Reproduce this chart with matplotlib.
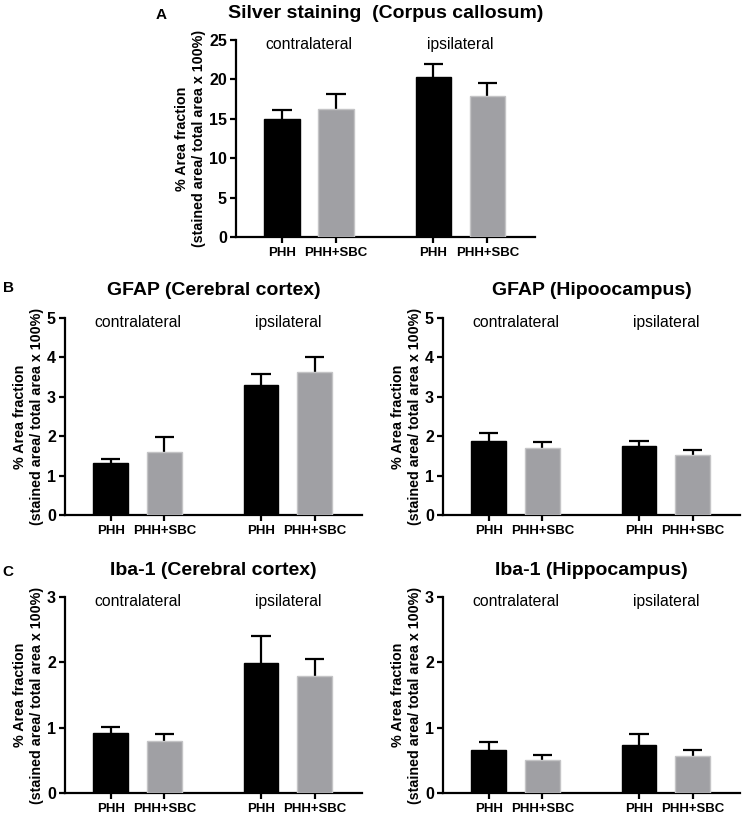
import matplotlib
matplotlib.use("Agg")
import matplotlib.pyplot as plt
import numpy as np

plt.rcParams['font.family'] = ['Liberation Sans', 'DejaVu Sans']

groups = ['contralateral', 'ipsilateral']
treatments = ['PHH', 'PHH+SBC']

silver_mean = [15.0, 16.3, 20.3, 17.85]
silver_err = [1.15, 1.8, 1.7, 1.75]
gfap_ctx_mean = [1.31, 1.61, 3.30, 3.62]
gfap_ctx_err = [0.12, 0.36, 0.27, 0.40]
gfap_hip_mean = [1.88, 1.69, 1.75, 1.52]
gfap_hip_err = [0.21, 0.17, 0.14, 0.12]
iba_ctx_mean = [0.925, 0.80, 1.99, 1.79]
iba_ctx_err = [0.09, 0.11, 0.41, 0.26]
iba_hip_mean = [0.66, 0.50, 0.74, 0.57]
iba_hip_err = [0.12, 0.075, 0.16, 0.09]

titles = ['Silver staining  (Corpus callosum)', 'GFAP (Cerebral cortex)',
          'GFAP (Hipoocampus)', 'Iba-1 (Cerebral cortex)', 'Iba-1 (Hippocampus)']
ymaxes = [25, 5, 5, 3, 3]
ysteps = [5, 1, 1, 1, 1]
ylabel = '% Area fraction\n(stained area/ total area x 100%)'

W, H = 743, 818
fig = plt.figure(figsize=(W / 100, H / 100), dpi=100)

def rect(l, r, t, b):
    return [l / W, 1 - b / H, (r - l) / W, (b - t) / H]

rects = [rect(236, 535, 40, 237), rect(65, 362, 318, 515), rect(443, 740, 318, 515),
         rect(65, 362, 597, 793), rect(443, 740, 597, 793)]
means = [silver_mean, gfap_ctx_mean, gfap_hip_mean, iba_ctx_mean, iba_hip_mean]
errs = [silver_err, gfap_ctx_err, gfap_hip_err, iba_ctx_err, iba_hip_err]

gap = 2.8
xpos = []
for gi in range(len(groups)):
    for ti in range(len(treatments)):
        xpos.append(gi * gap + ti)
xpos = np.array(xpos, dtype=float)
colors = ['black', '#a0a0a4']
edges = ['black', '#c4c4c6']
cap_half = 0.18

for k in range(5):
    ax = fig.add_axes(rects[k])
    m = np.array(means[k])
    e = np.array(errs[k])
    ax.vlines(xpos, m, m + e, color='black', linewidth=1.6, zorder=2)
    ax.hlines(m + e, xpos - cap_half, xpos + cap_half, color='black', linewidth=1.6, zorder=2)
    for i, x in enumerate(xpos):
        ti = i % 2
        ax.bar(x, m[i], width=0.65, color=colors[ti], edgecolor=edges[ti],
               linewidth=1.0, zorder=3)
    ax.set_xlim(-0.85, 4.68)
    ax.set_ylim(0, ymaxes[k])
    ax.set_yticks(np.arange(0, ymaxes[k] + 0.001, ysteps[k]))
    ax.set_xticks(xpos)
    ax.set_xticklabels(treatments * 2, fontsize=9.5, fontweight='bold')
    for lab in ax.get_yticklabels():
        lab.set_fontweight('bold')
        lab.set_fontsize(11.5)
    for s in ['top', 'right']:
        ax.spines[s].set_visible(False)
    for s in ['left', 'bottom']:
        ax.spines[s].set_linewidth(1.6)
    ax.tick_params(axis='both', direction='out', length=4.5, width=1.6, pad=2)
    ax.tick_params(axis='x', pad=3)
    ax.set_ylabel(ylabel, fontsize=10.3, fontweight='bold', linespacing=1.25, labelpad=2)
    for gi, g in enumerate(groups):
        gx = (xpos[2 * gi] + xpos[2 * gi + 1]) / 2
        ax.text(gx, ymaxes[k] * 0.975, g, ha='center', va='center', fontsize=11.3)
    ax.text(0.5, 1 + 27 / 197, titles[k], transform=ax.transAxes, ha='center',
            va='center', fontsize=14, fontweight='bold')

fig.text(161 / W, 1 - 15 / H, 'A', ha='center', va='center', fontsize=11, fontweight='bold')
fig.text(8 / W, 1 - 288 / H, 'B', ha='center', va='center', fontsize=11, fontweight='bold')
fig.text(8 / W, 1 - 572 / H, 'C', ha='center', va='center', fontsize=11, fontweight='bold')

fig.savefig('out.png', dpi=100)
